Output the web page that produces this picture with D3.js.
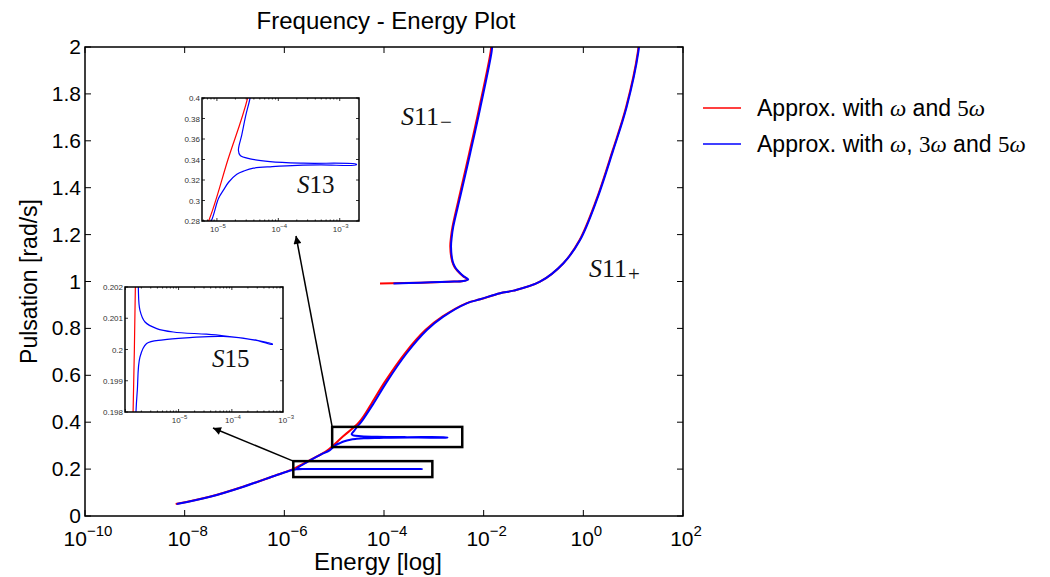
<!DOCTYPE html>
<html><head><meta charset="utf-8">
<script src="https://cdn.jsdelivr.net/npm/d3@7"></script>
<style>body{margin:0;background:#fff}svg{display:block}</style>
</head><body>
<svg id="c" width="1050" height="577"></svg>
<script>
// ---------- data: [log10(Energy), Pulsation] ----------
const redMain = [[-8.18,0.051],[-7.50,0.082],[-6.83,0.125],[-6.19,0.172],[-5.83,0.2],[-5.47,0.24],[-5.135,0.28],[-4.82,0.34],[-4.5,0.40],[-4.25,0.48],[-3.99,0.57],[-3.58,0.694],[-3.17,0.793],[-2.83,0.85],[-2.35,0.907],[-2.07,0.924],[-1.67,0.95],[-1.40,0.961],[-0.87,0.999],[-0.40,1.078],[-0.075,1.177],[0.26,1.348],[0.59,1.56],[0.86,1.745],[1.095,1.98],[1.11,2.02]];
const redS11m = [[-4.08,0.992],[-3.28,0.995],[-2.7,0.999],[-2.41,1.002],[-2.32,1.009],[-2.41,1.022],[-2.48,1.035],[-2.58,1.06],[-2.63,1.084],[-2.67,1.148],[-2.655,1.19],[-2.625,1.234],[-2.49,1.362],[-2.29,1.547],[-2.09,1.739],[-1.86,1.98],[-1.845,2.02]];
// blue solution: lower part, S15 loop, middle part, S13 loop, upper part
const blueA = [[-8.16,0.051],[-7.49,0.082],[-6.82,0.125],[-6.15,0.175],[-5.95,0.189],[-5.8,0.198]];
const blueS15low = [[-5.8,0.198],[-5.775,0.19869],[-5.725,0.19976],[-5.6,0.20019],[-5.29,0.20031],[-4.79,0.20038],[-4.16,0.20042],[-3.54,0.20029],[-3.24,0.20016]];
const blueS15up = [[-5.756,0.202],[-5.725,0.20125],[-5.63,0.20088],[-5.41,0.20067],[-5.1,0.20056],[-4.48,0.20049],[-4.16,0.20044],[-3.54,0.2003],[-3.24,0.20018]];
const blueB = [[-5.756,0.202],[-5.7,0.21],[-5.58,0.225],[-5.42,0.245],[-5.26,0.263],[-5.092,0.28]];
const blueS13low = [[-5.092,0.28],[-4.973,0.3022],[-4.892,0.3103],[-4.81,0.3178],[-4.676,0.3256],[-4.55,0.329],[-4.405,0.3315],[-4.1,0.333],[-3.865,0.3338],[-3.324,0.3347],[-2.73,0.3347]];
const blueS13up = [[-4.46,0.4],[-4.53,0.383],[-4.595,0.364],[-4.65,0.349],[-4.62,0.3439],[-4.46,0.3406],[-4.135,0.338],[-3.595,0.3364],[-2.73,0.3354]];
const blueC = [[-4.46,0.4],[-4.21,0.48],[-3.95,0.57],[-3.545,0.694],[-3.14,0.793],[-2.81,0.85],[-2.34,0.907],[-2.07,0.924],[-1.67,0.95],[-1.40,0.961],[-0.87,0.999],[-0.40,1.078],[-0.066,1.177],[0.27,1.348],[0.60,1.56],[0.87,1.745],[1.105,1.98],[1.12,2.02]];
const blueS11m = [[-3.81,0.992],[-3.28,0.995],[-2.7,0.999],[-2.41,1.002],[-2.31,1.009],[-2.40,1.022],[-2.47,1.035],[-2.57,1.06],[-2.62,1.084],[-2.655,1.148],[-2.64,1.19],[-2.61,1.234],[-2.47,1.362],[-2.27,1.547],[-2.07,1.739],[-1.84,1.98],[-1.825,2.02]];

const xTickExpMain = [-10,-8,-6,-4,-2,0,2];
const yTicksMain = [0,0.2,0.4,0.6,0.8,1,1.2,1.4,1.6,1.8,2];
const yTicksS13 = [0.28,0.3,0.32,0.34,0.36,0.38,0.4];
const yTicksS15 = [0.198,0.199,0.2,0.201,0.202];
const xTickExpInset = [-5,-4,-3];
// zoom boxes in data coords: [logE0, logE1, w0, w1]
const boxS13 = [-5.04,-2.43,0.294,0.38];
const boxS15 = [-5.82,-3.03,0.166,0.234];
const legendLabels = [
  [["Approx. with ","s"],["ω","i"],[" and ","s"],["5","r"],["ω","i"]],
  [["Approx. with ","s"],["ω","i"],[", ","s"],["3","r"],["ω","i"],[" and ","s"],["5","r"],["ω","i"]]
];
const RED = "#ff0000", BLUE = "#0000ff";
const SANS = "'Liberation Sans', Arial, sans-serif";
const SERIF = "'Liberation Serif', 'DejaVu Serif', serif";

// full blue main solution as one continuous curve
const blueMain = [].concat(blueA, blueS15low.slice(1), blueS15up.slice().reverse(), blueB.slice(1),
  blueS13low.slice(1), blueS13up.slice().reverse(), blueC.slice(1));

const svg = d3.select("#c");
const defs = svg.append("defs");
defs.append("marker").attr("id","arr").attr("viewBox","0 0 10 10").attr("refX",10).attr("refY",5)
  .attr("markerWidth",11).attr("markerHeight",8).attr("markerUnits","userSpaceOnUse").attr("orient","auto")
  .append("path").attr("d","M0,0 L10,5 L0,10 z").attr("fill","#000");

function drawSeries(g, x, y, lw) {
  const line = d3.line().x(d => x(Math.pow(10, d[0]))).y(d => y(d[1])).curve(d3.curveCatmullRom.alpha(0.5));
  [redMain, redS11m].forEach(s => g.append("path").attr("d", line(s)).attr("fill","none").attr("stroke",RED).attr("stroke-width",lw));
  [blueMain, blueS11m].forEach(s =>
    g.append("path").attr("d", line(s)).attr("fill","none").attr("stroke",BLUE).attr("stroke-width",lw).attr("stroke-linejoin","round"));
}
function supLabel(g, xp, yp, exp, fs, fsSup, dy, color) {
  const t = g.append("text").attr("x", xp).attr("y", yp).attr("text-anchor","middle")
    .attr("font-family", SANS).attr("font-size", fs).attr("fill", color);
  t.append("tspan").text("10");
  t.append("tspan").attr("dy", -dy).attr("font-size", fsSup).text(exp < 0 ? "\u2212" + (-exp) : String(exp));
}

// ---------- main axes ----------
const X0 = 85, X1 = 683, Y0 = 516, Y1 = 47;
const x = d3.scaleLog().domain([1e-10, 1e2]).range([X0, X1]);
const y = d3.scaleLinear().domain([0, 2]).range([Y0, Y1]);

defs.append("clipPath").attr("id","clipMain").append("rect").attr("x",X0).attr("y",Y1).attr("width",X1-X0).attr("height",Y0-Y1);
const gm = svg.append("g");
gm.append("rect").attr("x",X0).attr("y",Y1).attr("width",X1-X0).attr("height",Y0-Y1).attr("fill","#fff");
drawSeries(gm.append("g").attr("clip-path","url(#clipMain)"), x, y, 2);

const tl = 6;
xTickExpMain.forEach(e => {
  const px = x(Math.pow(10, e));
  gm.append("line").attr("x1",px).attr("x2",px).attr("y1",Y0).attr("y2",Y0-tl).attr("stroke","#000");
  gm.append("line").attr("x1",px).attr("x2",px).attr("y1",Y1).attr("y2",Y1+tl).attr("stroke","#000");
  supLabel(gm, px + 3, 546, e, 21, 15, 10, "#000");
});
yTicksMain.forEach(v => {
  const py = y(v);
  gm.append("line").attr("x1",X0).attr("x2",X0+tl).attr("y1",py).attr("y2",py).attr("stroke","#000");
  gm.append("line").attr("x1",X1).attr("x2",X1-tl).attr("y1",py).attr("y2",py).attr("stroke","#000");
  gm.append("text").attr("x", X0 - 4).attr("y", py + 7).attr("text-anchor","end")
    .attr("font-family",SANS).attr("font-size",21).text(d3.format("~g")(v));
});
gm.append("rect").attr("x",X0).attr("y",Y1).attr("width",X1-X0).attr("height",Y0-Y1)
  .attr("fill","none").attr("stroke","#000").attr("stroke-width",1.5);

// zoom boxes
[boxS13, boxS15].forEach(b => {
  gm.append("rect").attr("x", x(Math.pow(10,b[0]))).attr("y", y(b[3]))
    .attr("width", x(Math.pow(10,b[1])) - x(Math.pow(10,b[0]))).attr("height", y(b[2]) - y(b[3]))
    .attr("fill","none").attr("stroke","#000").attr("stroke-width",2.5);
});

// texts
svg.append("text").attr("x",386).attr("y",29).attr("text-anchor","middle")
  .attr("font-family",SANS).attr("font-size",24).text("Frequency - Energy Plot");
svg.append("text").attr("x",378).attr("y",570).attr("text-anchor","middle")
  .attr("font-family",SANS).attr("font-size",24).text("Energy [log]");
svg.append("text").attr("transform",`translate(37,${(Y0+Y1)/2}) rotate(-90)`).attr("text-anchor","middle")
  .attr("font-family",SANS).attr("font-size",23).text("Pulsation [rad/s]");

function branchLabel(xp, yp, sub) {
  const t = svg.append("text").attr("x",xp).attr("y",yp).attr("font-family",SERIF).attr("font-size",26).attr("fill","#111");
  t.append("tspan").attr("font-style","italic").text("S");
  t.append("tspan").text("11");
  t.append("tspan").attr("dx",1).attr("dy",4).attr("font-size",21).text(sub);
}
branchLabel(401, 125, "\u2212");
branchLabel(589, 277, "+");

// ---------- insets ----------
function inset(id, px0, px1, py0, py1, dom, yDom, yTicks, labelPos) {
  const xs = d3.scaleLog().domain(dom).range([px0, px1]);
  const ys = d3.scaleLinear().domain(yDom).range([py1, py0]);
  const g = svg.append("g");
  g.append("rect").attr("x",px0).attr("y",py0).attr("width",px1-px0).attr("height",py1-py0).attr("fill","#fff");
  defs.append("clipPath").attr("id",id).append("rect").attr("x",px0).attr("y",py0).attr("width",px1-px0).attr("height",py1-py0);
  drawSeries(g.append("g").attr("clip-path",`url(#${id})`), xs, ys, 1.2);
  const lo = Math.floor(Math.log10(dom[0])), hi = Math.ceil(Math.log10(dom[1]));
  for (let e = lo; e <= hi; e++) {
    for (let m = 1; m < 10; m++) {
      const v = m * Math.pow(10, e);
      if (v < dom[0] || v > dom[1]) continue;
      const px = xs(v), len = m === 1 ? 3 : 1.5;
      g.append("line").attr("x1",px).attr("x2",px).attr("y1",py1).attr("y2",py1-len).attr("stroke","#000").attr("stroke-width",0.8);
      g.append("line").attr("x1",px).attr("x2",px).attr("y1",py0).attr("y2",py0+len).attr("stroke","#000").attr("stroke-width",0.8);
    }
  }
  xTickExpInset.forEach(e => supLabel(g, xs(Math.pow(10,e)) + 1, py1 + 11, e, 8, 6, 4, "#333"));
  yTicks.forEach(v => {
    const py = ys(v);
    g.append("line").attr("x1",px0).attr("x2",px0+3).attr("y1",py).attr("y2",py).attr("stroke","#000").attr("stroke-width",0.8);
    g.append("line").attr("x1",px1).attr("x2",px1-3).attr("y1",py).attr("y2",py).attr("stroke","#000").attr("stroke-width",0.8);
    g.append("text").attr("x",px0-2).attr("y",py+3).attr("text-anchor","end").attr("font-family",SANS)
      .attr("font-size",8).attr("fill","#333").text(d3.format("~g")(v));
  });
  g.append("rect").attr("x",px0).attr("y",py0).attr("width",px1-px0).attr("height",py1-py0)
    .attr("fill","none").attr("stroke","#000").attr("stroke-width",1.5);
  const t = g.append("text").attr("x",labelPos[0]).attr("y",labelPos[1]).attr("font-family",SERIF).attr("font-size",25).attr("fill","#111");
  t.append("tspan").attr("font-style","italic").text("S");
  t.append("tspan").text(labelPos[2]);
}
inset("clipS13", 202, 359, 98, 221, [Math.pow(10,-5.243), Math.pow(10,-2.686)], [0.28,0.4], yTicksS13, [297,193,"13"]);
inset("clipS15", 125, 283, 287, 412, [Math.pow(10,-6.006), Math.pow(10,-3.04)], [0.198,0.202], yTicksS15, [212,367,"15"]);

// arrows from zoom boxes to insets
svg.append("line").attr("x1", x(Math.pow(10,boxS13[0]))).attr("y1", y(boxS13[3]))
  .attr("x2", 296).attr("y2", 236).attr("stroke","#000").attr("stroke-width",1.5).attr("marker-end","url(#arr)");
svg.append("line").attr("x1", x(Math.pow(10,boxS15[0]))).attr("y1", y(boxS15[3]))
  .attr("x2", 213).attr("y2", 428).attr("stroke","#000").attr("stroke-width",1.5).attr("marker-end","url(#arr)");

// ---------- legend ----------
const lg = svg.append("g");
[RED, BLUE].forEach((c, i) => {
  const ly = 108 + i * 36;
  lg.append("line").attr("x1",703).attr("x2",741).attr("y1",ly).attr("y2",ly).attr("stroke",c).attr("stroke-width",1.5);
  const t = lg.append("text").attr("x",757).attr("y",ly + 8).attr("font-size",23).attr("font-family",SANS);
  legendLabels[i].forEach(([s, k]) => {
    const sp = t.append("tspan").text(s);
    if (k === "i") sp.attr("font-family",SERIF).attr("font-style","italic");
    if (k === "r") sp.attr("font-family",SERIF);
  });
});
</script></body></html>
